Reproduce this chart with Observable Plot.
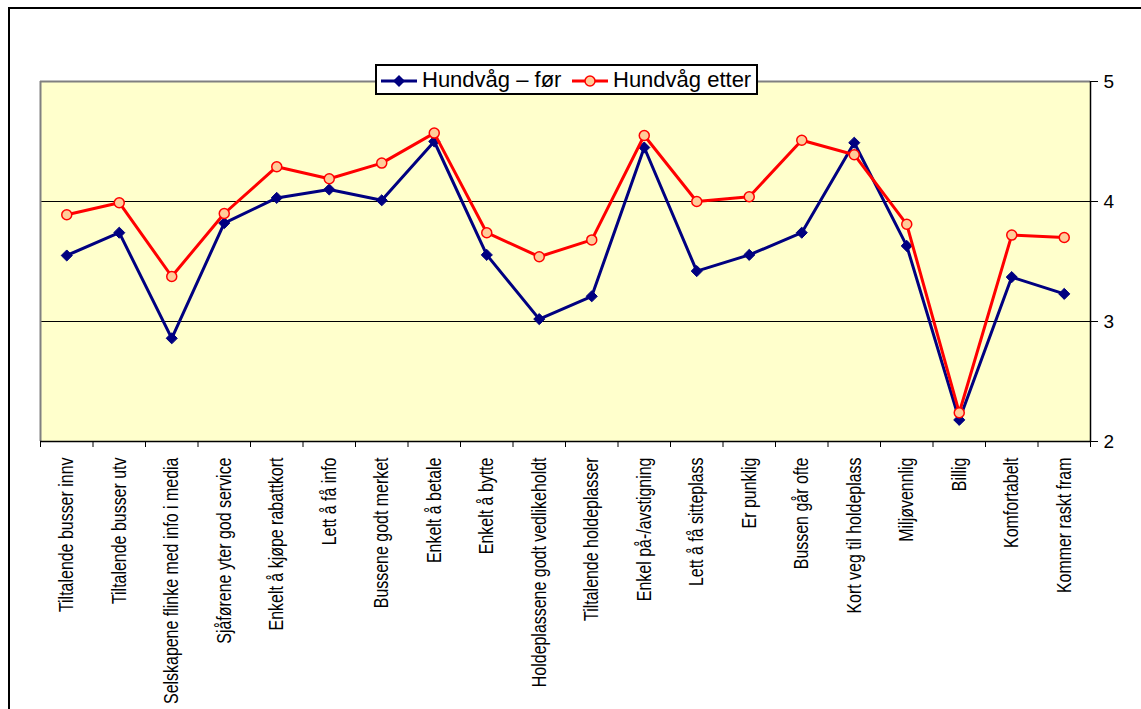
<!DOCTYPE html>
<html>
<head>
<meta charset="utf-8">
<script src="https://cdn.jsdelivr.net/npm/d3@7"></script>
<script src="https://cdn.jsdelivr.net/npm/@observablehq/plot@0.6"></script>
<style>
  html, body { margin: 0; padding: 0; background: #fff; }
  #wrap { position: relative; width: 1141px; height: 709px; overflow: hidden; }
  #frame { position: absolute; left: 8px; top: 7px; width: 1300px; height: 900px;
           border-left: 2px solid #000; border-top: 2px solid #000; box-sizing: border-box; }
  #chart { position: absolute; left: 0; top: 0; }
  #chart svg { overflow: visible; }
  g[aria-label="x-axis tick label"] text { font-family: "Liberation Sans", Arial, sans-serif; font-size: 21px; fill: #000; }
  g[aria-label="y-axis tick label"] text { font-family: "Liberation Sans", Arial, sans-serif; font-size: 19px; fill: #000; }
  #legend { position: absolute; left: 375px; top: 64px; width: 383px; height: 31px; box-sizing: border-box;
            border: 2px solid #000; background: #fff; font-family: "Liberation Sans", Arial, sans-serif;
            font-size: 22px; color: #000; }
  #legend .item { position: absolute; top: 0; height: 27px; display: flex; align-items: center; white-space: nowrap; }
  #legend svg { display: block; margin-right: 5px; }
</style>
</head>
<body>
<div id="wrap">
  <div id="frame"></div>
  <div id="chart"></div>
  <div id="legend"></div>
</div>
<script>
const categories = [
  "Tiltalende busser innv",
  "Tiltalende busser utv",
  "Selskapene flinke med info i media",
  "Sjåførene yter god service",
  "Enkelt å kjøpe rabattkort",
  "Lett å få info",
  "Bussene godt merket",
  "Enkelt å betale",
  "Enkelt å bytte",
  "Holdeplassene godt vedlikeholdt",
  "Tiltalende holdeplasser",
  "Enkel på-/avstigning",
  "Lett å få sitteplass",
  "Er punklig",
  "Bussen går ofte",
  "Kort veg til holdeplass",
  "Miljøvennlig",
  "Billig",
  "Komfortabelt",
  "Kommer raskt fram"
];
const seriesNames = ["Hundvåg – før", "Hundvåg etter"];
const before = [3.55, 3.74, 2.86, 3.82, 4.03, 4.10, 4.01, 4.50, 3.555, 3.02, 3.21, 4.45, 3.42, 3.555, 3.74, 4.49, 3.63, 2.18, 3.37, 3.23];
const after  = [3.89, 3.99, 3.375, 3.90, 4.29, 4.19, 4.32, 4.57, 3.74, 3.54, 3.68, 4.55, 4.00, 4.04, 4.51, 4.39, 3.81, 2.24, 3.72, 3.70];
const yTicks = [2, 3, 4, 5];
const gridValues = [3, 4];

const beforeRows = categories.map((c, i) => ({i, c, v: before[i]}));
const afterRows = categories.map((c, i) => ({i, c, v: after[i]}));
const centers = categories.map((c, i) => i);
const boundaries = d3.range(categories.length + 1).map(k => k - 0.5);

const navy = "#000080", red = "#FF0000", peach = "#FFCC99";

const chart = Plot.plot({
  width: 1141,
  height: 709,
  marginLeft: 40,
  marginRight: 51,
  marginTop: 81,
  marginBottom: 268,
  x: {type: "linear", domain: [-0.5, categories.length - 0.5]},
  y: {domain: [2, 5]},
  marks: [
    Plot.frame({fill: "#FFFFCC", stroke: "none"}),
    Plot.ruleY(gridValues, {stroke: "#000", strokeWidth: 1}),
    Plot.ruleY([5], {stroke: "#808080", strokeWidth: 2}),
    Plot.ruleX([-0.5], {stroke: "#808080", strokeWidth: 2}),
    Plot.ruleY([2], {stroke: "#000", strokeWidth: 1.5}),
    Plot.ruleX([categories.length - 0.5], {stroke: "#000", strokeWidth: 1.5}),
    Plot.axisY({anchor: "right", ticks: yTicks, tickSize: 7, tickPadding: 6, tickFormat: d => String(d), label: null, stroke: "#000"}),
    Plot.axisX({ticks: boundaries, tickSize: 6, tickFormat: () => "", label: null, stroke: "#000"}),
    Plot.axisX({ticks: centers, tickSize: 0, tickPadding: 16, tickRotate: -90, tickFormat: i => categories[i], label: null}),
    Plot.line(beforeRows, {x: "i", y: "v", stroke: navy, strokeWidth: 3}),
    Plot.dot(beforeRows, {x: "i", y: "v", symbol: "diamond2", r: 5, fill: navy, stroke: navy, strokeWidth: 1}),
    Plot.line(afterRows, {x: "i", y: "v", stroke: red, strokeWidth: 3}),
    Plot.dot(afterRows, {x: "i", y: "v", symbol: "circle", r: 5, fill: peach, stroke: red, strokeWidth: 1.5})
  ]
});
// condense the category labels along their reading direction (narrow font look)
chart.querySelectorAll('g[aria-label="x-axis tick label"] text').forEach(t => {
  const tr = t.getAttribute("transform") || "";
  t.setAttribute("transform", tr + " scale(0.76,1)");
});
document.getElementById("chart").appendChild(chart);

// legend
const legend = document.getElementById("legend");
const items = [
  {name: seriesNames[0], left: 4, color: navy, marker: "diamond"},
  {name: seriesNames[1], left: 195, color: red, marker: "circle"}
];
for (const it of items) {
  const div = document.createElement("div");
  div.className = "item";
  div.style.left = it.left + "px";
  const marker = it.marker === "diamond"
    ? `<path d="M18,9 L24,15 L18,21 L12,15 Z" fill="${navy}"/>`
    : `<circle cx="18" cy="15" r="5" fill="${peach}" stroke="${red}" stroke-width="1.5"/>`;
  div.innerHTML = `<svg width="36" height="27"><line x1="0" x2="36" y1="15" y2="15" stroke="${it.color}" stroke-width="3"/>${marker}</svg><span>${it.name}</span>`;
  legend.appendChild(div);
}
</script>
</body>
</html>
